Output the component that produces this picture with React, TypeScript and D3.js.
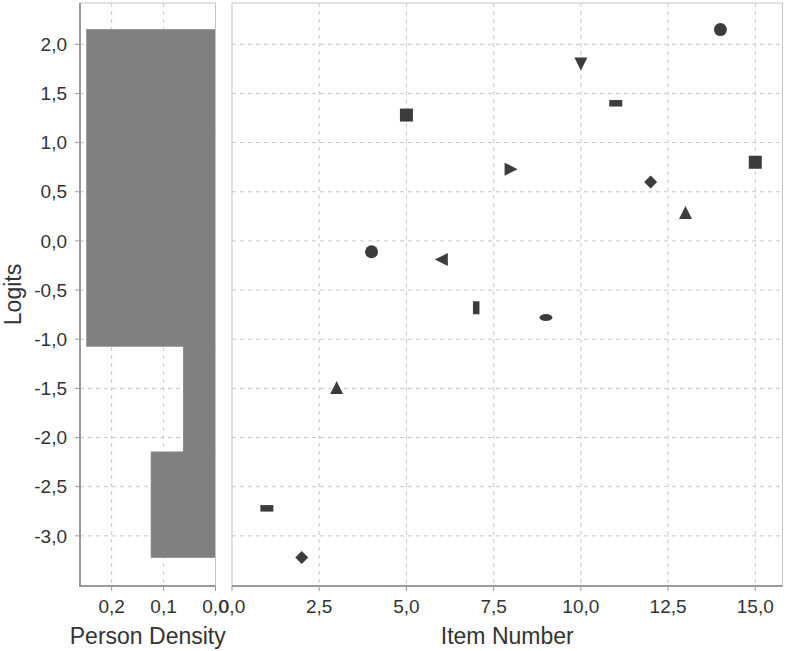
import React from "react";
import * as d3 from "d3";

// Item measures (logits) for items 1..15
const itemNumbers = [1, 2, 3, 4, 5, 6, 7, 8, 9, 10, 11, 12, 13, 14, 15];
const itemLogits = [-2.72, -3.22, -1.49, -0.11, 1.28, -0.19, -0.68, 0.73, -0.78, 1.8, 1.4, 0.6, 0.29, 2.15, 0.8];
// JFreeChart default shape sequence, assigned in reverse order
const shapeSequence = ["square", "circle", "triUp", "diamond", "hRect", "triDown", "ellipse", "triRight", "vRect", "triLeft"];

const yTicks = [-3.0, -2.5, -2.0, -1.5, -1.0, -0.5, 0.0, 0.5, 1.0, 1.5, 2.0];
const densityTicks = [0.0, 0.1, 0.2];
const itemTicks = [0.0, 2.5, 5.0, 7.5, 10.0, 12.5, 15.0];
const binCount = 5;

const W = 787;
const H = 651;
const top = 3;
const bottom = 586;
const leftL = 80;
const leftR = 215.5;
const rightL = 232;
const rightR = 782.5;

const fmt = (v: number) => v.toFixed(1).replace(".", ",");
const FONT = "'Liberation Sans', Arial, sans-serif";
const GRID = "#c8c8c8";
const OUTLINE = "#c4c4c4";
const AXIS = "#9a9a9a";
const MARK = "#3c3c3c";
const TXT = "#333";
const TICK_FS = 19;
const LABEL_FS = 23;

function shapePath(kind: string, cx: number, cy: number): string {
  const s = 6.5;
  switch (kind) {
    case "square":
      return `M${cx - s},${cy - s}h${2 * s}v${2 * s}h${-2 * s}Z`;
    case "triUp":
      return `M${cx},${cy - s}L${cx + s},${cy + s}L${cx - s},${cy + s}Z`;
    case "triDown":
      return `M${cx - s},${cy - s}L${cx + s},${cy - s}L${cx},${cy + s}Z`;
    case "triRight":
      return `M${cx - s},${cy - s}L${cx + s},${cy}L${cx - s},${cy + s}Z`;
    case "triLeft":
      return `M${cx + s},${cy - s}L${cx - s},${cy}L${cx + s},${cy + s}Z`;
    case "diamond":
      return `M${cx},${cy - s}L${cx + s},${cy}L${cx},${cy + s}L${cx - s},${cy}Z`;
    case "hRect":
      return `M${cx - s},${cy - s / 2}h${2 * s}v${s}h${-2 * s}Z`;
    case "vRect":
      return `M${cx - s / 2},${cy - s}h${s}v${2 * s}h${-s}Z`;
    default:
      return "";
  }
}

export default function App() {
  const y = d3.scaleLinear().domain([-3.51, 2.42]).range([bottom, top]);
  const xd = d3.scaleLinear().domain([0, 0.261]).range([leftR, leftL]);
  const xi = d3.scaleLinear().domain([0, 15.78]).range([rightL, rightR]);

  const [mn, mx] = d3.extent(itemLogits) as [number, number];
  const bw = (mx - mn) / binCount;
  const thresholds = d3.range(1, binCount).map((i) => mn + i * bw);
  const bins = d3.bin().domain([mn, mx]).thresholds(thresholds)(itemLogits);
  const n = itemLogits.length;
  const hist = bins.map((b) => ({ x0: b.x0 as number, x1: b.x1 as number, d: b.length / (n * bw) }));

  return (
    <svg width={W} height={H} style={{ position: "absolute", left: 0, top: 0, background: "#fff" }} fontFamily={FONT}>
      <rect x={0} y={0} width={W} height={H} fill="#fff" />
      {/* Left panel grid */}
      {yTicks.map((t) => (
        <line key={"lg" + t} x1={leftL} x2={leftR} y1={y(t)} y2={y(t)} stroke={GRID} strokeDasharray="4,4" />
      ))}
      {densityTicks.filter((t) => t > 0).map((t) => (
        <line key={"lv" + t} x1={xd(t)} x2={xd(t)} y1={top} y2={bottom} stroke={GRID} strokeDasharray="4,4" />
      ))}
      {/* histogram */}
      {hist.map((h, i) => (
        <rect
          key={"h" + i}
          x={xd(h.d)}
          width={xd(0) - xd(h.d)}
          y={y(h.x1)}
          height={y(h.x0) - y(h.x1)}
          fill="#808080"
          stroke="#808080"
          strokeWidth={0.6}
        />
      ))}
      <rect x={leftL} y={top} width={leftR - leftL} height={bottom - top} fill="none" stroke={OUTLINE} />

      {/* Right panel grid */}
      {yTicks.map((t) => (
        <line key={"rg" + t} x1={rightL} x2={rightR} y1={y(t)} y2={y(t)} stroke={GRID} strokeDasharray="4,4" />
      ))}
      {itemTicks.filter((t) => t > 0).map((t) => (
        <line key={"rv" + t} x1={xi(t)} x2={xi(t)} y1={top} y2={bottom} stroke={GRID} strokeDasharray="4,4" />
      ))}
      <rect x={rightL} y={top} width={rightR - rightL} height={bottom - top} fill="none" stroke={OUTLINE} />

      {/* markers */}
      {itemNumbers.map((num, i) => {
        const kind = shapeSequence[(n - 1 - i) % shapeSequence.length];
        const cx = xi(num);
        const cy = y(itemLogits[i]);
        if (kind === "circle") return <circle key={"m" + i} cx={cx} cy={cy} r={6.5} fill={MARK} />;
        if (kind === "ellipse") return <ellipse key={"m" + i} cx={cx} cy={cy} rx={6.5} ry={3.5} fill={MARK} />;
        return <path key={"m" + i} d={shapePath(kind, cx, cy)} fill={MARK} />;
      })}

      {/* Left y axis */}
      <line x1={leftL} x2={leftL} y1={top} y2={bottom + 1} stroke={AXIS} strokeWidth={2} />
      {yTicks.map((t) => (
        <g key={"yt" + t}>
          <line x1={leftL - 5} x2={leftL} y1={y(t)} y2={y(t)} stroke={AXIS} />
          <text x={leftL - 13} y={y(t)} dy="0.35em" textAnchor="end" fontSize={TICK_FS} fill={TXT}>
            {fmt(t)}
          </text>
        </g>
      ))}
      <text transform={`translate(21,${(top + bottom) / 2}) rotate(-90)`} textAnchor="middle" fontSize={LABEL_FS} fill={TXT}>
        Logits
      </text>

      {/* Left x axis */}
      <line x1={leftL - 1} x2={leftR} y1={bottom} y2={bottom} stroke={AXIS} strokeWidth={2} />
      {densityTicks.map((t) => (
        <g key={"dt" + t}>
          <line x1={xd(t)} x2={xd(t)} y1={bottom} y2={bottom + 5} stroke={AXIS} />
          <text x={xd(t)} y={bottom + 20} dy="0.35em" textAnchor="middle" fontSize={TICK_FS} fill={TXT}>
            {fmt(t)}
          </text>
        </g>
      ))}
      <text x={(leftL + leftR) / 2} y={644} textAnchor="middle" fontSize={LABEL_FS} fill={TXT}>
        Person Density
      </text>

      {/* Right x axis */}
      <line x1={rightL} x2={rightR} y1={bottom} y2={bottom} stroke={AXIS} strokeWidth={2} />
      {itemTicks.map((t) => (
        <g key={"it" + t}>
          <line x1={xi(t)} x2={xi(t)} y1={bottom} y2={bottom + 5} stroke={AXIS} />
          <text x={xi(t)} y={bottom + 20} dy="0.35em" textAnchor="middle" fontSize={TICK_FS} fill={TXT}>
            {fmt(t)}
          </text>
        </g>
      ))}
      <text x={(rightL + rightR) / 2} y={644} textAnchor="middle" fontSize={LABEL_FS} fill={TXT}>
        Item Number
      </text>
    </svg>
  );
}
